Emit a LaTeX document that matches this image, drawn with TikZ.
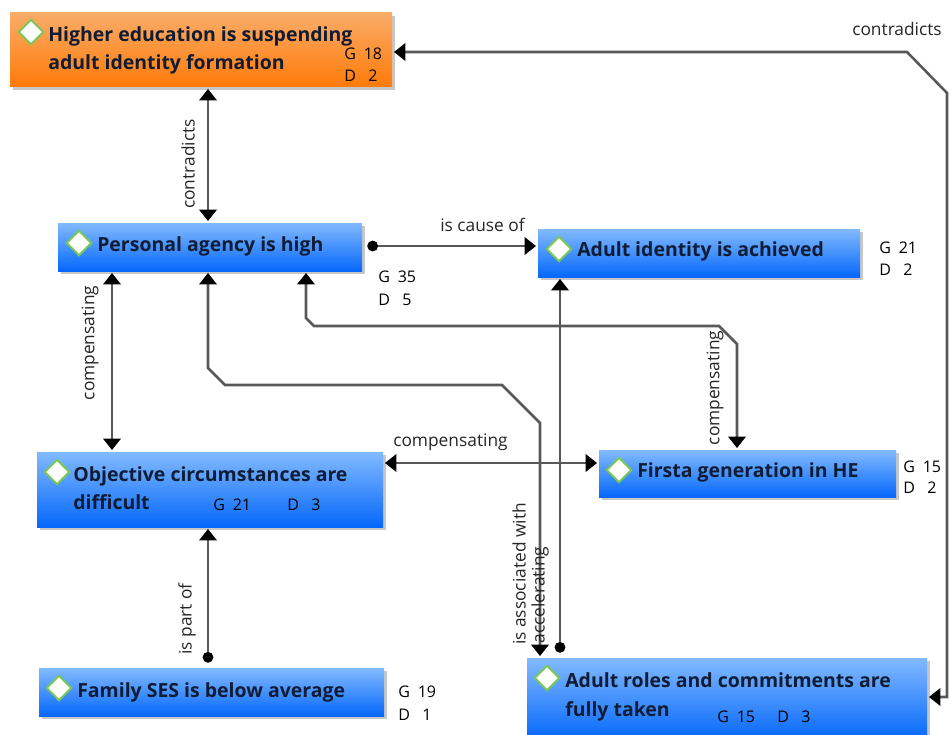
\documentclass[tikz,border=0pt]{standalone}
\usepackage{fontspec}
\setmainfont{Open Sans}
\usetikzlibrary{arrows.meta,shapes.geometric,shadows}

\definecolor{edgegray}{RGB}{88,88,88}
\definecolor{titlecol}{RGB}{16,28,52}
\definecolor{bluetop}{RGB}{130,186,255}
\definecolor{bluebot}{RGB}{5,104,250}
\definecolor{orgtop}{RGB}{250,172,104}
\definecolor{orgbot}{RGB}{255,122,8}
\definecolor{gemgreen}{RGB}{122,200,84}

% code row: letter, then a centred number
\newcommand\gdrow[2]{\makebox[9pt][l]{#1}\hspace{5.5pt}\makebox[14pt][c]{#2}}

\tikzset{
  box/.style={rectangle, inner sep=0pt, outer sep=1.5pt,
    drop shadow={shadow xshift=2.2pt, shadow yshift=-2.2pt, fill=black!55, opacity=0.4}},
  bluebox/.style={box, top color=bluetop, bottom color=bluebot},
  orangebox/.style={box, top color=orgtop, bottom color=orgbot},
  gem/.style={diamond, draw=gemgreen, fill=white, line width=1.4pt,
    minimum width=19pt, minimum height=19pt, inner sep=0pt},
  ttl/.style={font=\fontsize{14.6}{17}\selectfont\bfseries, text=titlecol,
    inner sep=0pt, anchor=base west},
  gd/.style={font=\fontsize{12}{14}\selectfont, inner sep=0pt, anchor=base west},
  lbl/.style={font=\fontsize{13}{15}\selectfont, inner sep=0pt, text=black!85},
  conn/.style={draw=edgegray, line width=1.9pt},
  tri/.tip={Triangle[width=13pt,length=8.5pt,color=black]},
  dot/.tip={Circle[length=8pt,color=black]},
  dotstart/.style={shorten <=2.5pt},
}

\begin{document}
\begin{tikzpicture}[x=0.75pt,y=-0.75pt]
  \fill[white] (0,0) rectangle (951,735);
  \useasboundingbox (0,0) rectangle (951,735);

  % concept boxes
  \node[orangebox, minimum width=382*0.75pt, minimum height=74*0.75pt] (he) at (201,50) {};
  \node[bluebox, minimum width=304*0.75pt, minimum height=48*0.75pt] (pa) at (210,247) {};
  \node[bluebox, minimum width=322*0.75pt, minimum height=48*0.75pt] (ai) at (699,253) {};
  \node[bluebox, minimum width=346*0.75pt, minimum height=75*0.75pt] (oc) at (210,489.5) {};
  \node[bluebox, minimum width=297*0.75pt, minimum height=47*0.75pt] (fg) at (747.5,473.5) {};
  \node[bluebox, minimum width=345*0.75pt, minimum height=48*0.75pt] (fs) at (211.5,692) {};
  \node[bluebox, minimum width=400*0.75pt, minimum height=82*0.75pt] (ar) at (727,699) {};

  % markers
  \node[gem] (he-m) at (31,32) {};
  \node[gem] (pa-m) at (79,243) {};
  \node[gem] (ai-m) at (559,249) {};
  \node[gem] (oc-m) at (57,472) {};
  \node[gem] (fg-m) at (619,470) {};
  \node[gem] (fs-m) at (59,688) {};
  \node[gem] (ar-m) at (547,678) {};

  % titles
  \node[ttl] (he-t1) at (48,42) {Higher education is suspending};
  \node[ttl] (he-t2) at (48,70) {adult identity formation};
  \node[ttl] (pa-t) at (97,252) {Personal agency is high};
  \node[ttl] (ai-t) at (577,257) {Adult identity is achieved};
  \node[ttl] (oc-t1) at (73,481) {Objective circumstances are};
  \node[ttl] (oc-t2) at (73,509) {difficult};
  \node[ttl] (fg-t) at (637,477) {Firsta generation in HE};
  \node[ttl] (fs-t) at (77,697) {Family SES is below average};
  \node[ttl] (ar-t1) at (565,687) {Adult roles and commitments are};
  \node[ttl] (ar-t2) at (565,716) {fully taken};

  % groundedness / density
  \node[gd] (he-g) at (344,60) {\gdrow{G}{18}};
  \node[gd] (he-d) at (344,82) {\gdrow{D}{2}};
  \node[gd] (pa-g) at (378,282) {\gdrow{G}{35}};
  \node[gd] (pa-d) at (378,305) {\gdrow{D}{5}};
  \node[gd] (ai-g) at (879,253) {\gdrow{G}{21}};
  \node[gd] (ai-d) at (879,275) {\gdrow{D}{2}};
  \node[gd] (fg-g) at (903,472) {\gdrow{G}{15}};
  \node[gd] (fg-d) at (903,493) {\gdrow{D}{2}};
  \node[gd] (fs-g) at (398,697) {\gdrow{G}{19}};
  \node[gd] (fs-d) at (398,720) {\gdrow{D}{1}};
  \node[gd] (oc-g) at (213,510) {\gdrow{G}{21}};
  \node[gd] (oc-d) at (287,510) {\gdrow{D}{3}};
  \node[gd] (ar-g) at (717,722) {\gdrow{G}{15}};
  \node[gd] (ar-d) at (777,722) {\gdrow{D}{3}};

  % relations
  \draw[conn, {tri}-{tri}] (208,0 |- he.south) -- (208,0 |- pa.north);
  \draw[conn, {tri}-{tri}] (he.east |- 0,52) -- (907,52) -- (947,93)
        -- (947,697) -- (ar.east |- 0,697);
  \draw[conn, dotstart, {dot}-{tri}] (pa.east |- 0,246) -- (ai.west |- 0,246);
  \draw[conn, {tri}-{tri}] (112,0 |- pa.south) -- (112,0 |- oc.north);
  \draw[conn, {tri}-{tri}] (208,0 |- pa.south) -- (208,368) -- (225,385)
        -- (502,385) -- (540,423) -- (540,0 |- ar.north);
  \draw[conn, dotstart, {dot}-{tri}] (560,0 |- ar.north) -- (560,0 |- ai.south);
  \draw[conn, {tri}-{tri}] (306,0 |- pa.south) -- (306,318) -- (314,326)
        -- (719,326) -- (737,344) -- (737,0 |- fg.north);
  \draw[conn, {tri}-{tri}] (oc.east |- 0,463) -- (fg.west |- 0,463);
  \draw[conn, dotstart, {dot}-{tri}] (208,0 |- fs.north) -- (208,0 |- oc.south);

  % relation labels
  \node[lbl, rotate=90] (l-contra1) at (188,164) {contradicts};
  \node[lbl, anchor=base west] (l-contra2) at (852,36) {contradicts};
  \node[lbl, anchor=base west] (l-cause) at (440,232) {is cause of};
  \node[lbl, rotate=90] (l-comp1) at (90,343) {compensating};
  \node[lbl, rotate=90] (l-comp2) at (715,388) {compensating};
  \node[lbl, anchor=base west] (l-comp3) at (393,446) {compensating};
  \node[lbl, rotate=90] (l-part) at (187,619) {is part of};
  \node[lbl, rotate=90] (l-assoc) at (519,574) {is associated with};
  \node[lbl, rotate=90] (l-accel) at (540,595) {accelerating};
\end{tikzpicture}
\end{document}
